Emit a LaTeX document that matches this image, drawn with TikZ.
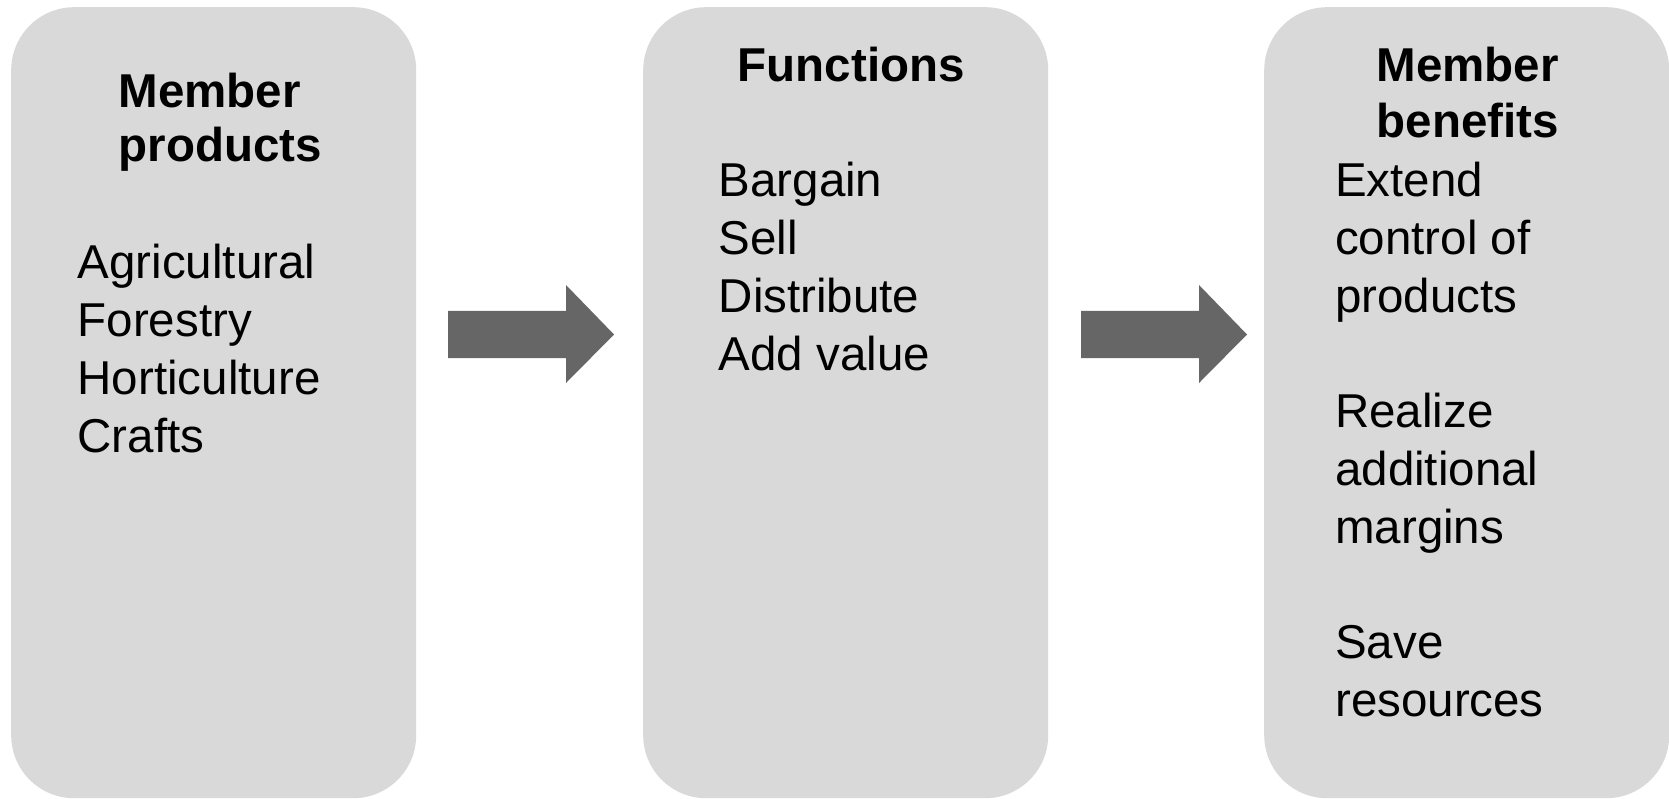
\documentclass[tikz,border=0pt]{standalone}
\usepackage{fontspec}
\setmainfont{Liberation Sans}
\definecolor{panelgray}{HTML}{D9D9D9}
\definecolor{arrowgray}{HTML}{666666}
\tikzset{
  panel/.style={draw=none, fill=panelgray, rounded corners=63pt, minimum width=405pt, minimum height=791pt, anchor=north west, inner sep=0pt},
  body/.style={inner sep=0pt, anchor=base west, font=\fontsize{47.5pt}{57pt}\selectfont},
  head/.style={body, font=\fontsize{47.5pt}{57pt}\selectfont\bfseries},
  blockarrow/.style={fill=arrowgray, draw=none}
}
\begin{document}
\begin{tikzpicture}[x=1pt,y=-1pt]
\useasboundingbox (0,0) rectangle (1669,799);
\fill[white] (0,0) rectangle (1669,799);
% panels
\node[panel] (b1) at (11,7) {};
\node[panel] (b2) at (643,7) {};
\node[panel] (b3) at (1264,7) {};
% arrows
\fill[blockarrow] (448,311) -- (566,311) -- (566,285) -- (614,334.5) -- (566,383) -- (566,358) -- (448,358) -- cycle;
\fill[blockarrow] (1081,311) -- (1199,311) -- (1199,285) -- (1247,334.5) -- (1199,383) -- (1199,358) -- (1081,358) -- cycle;
% titles
\node[head] (t1a) at (118.5,108) {Member};
\node[head] (t1b) at (118.5,162) {products};
\node[head] (t2a) at (737.5,82) {Functions};
\node[head] (t3a) at (1376.5,82) {Member};
\node[head] (t3b) at (1376.5,138) {benefits};
% bodies
\foreach \t [count=\i from 0] in {Agricultural,Forestry,Horticulture,Crafts}
  \node[body] (p\i) at (77.5,{279+57.7*\i}) {\t};
\foreach \t [count=\i from 0] in {Bargain,Sell,Distribute,Add value}
  \node[body] (f\i) at (718.5,{197+57.7*\i}) {\t};
\foreach \t/\k in {Extend/0,control of/1,products/2,Realize/4,additional/5,margins/6,Save/8,resources/9}
  \node[body] (m\k) at (1335,{197+57.7*\k}) {\t};
\end{tikzpicture}
\end{document}
